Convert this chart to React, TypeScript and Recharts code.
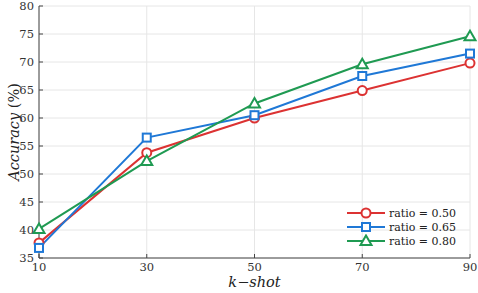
import {
  LineChart,
  Line,
  XAxis,
  YAxis,
  CartesianGrid,
  Legend,
  Label
} from "recharts"

const shots = [10, 30, 50, 70, 90]
const ratio050 = [37.7, 53.8, 60.0, 64.9, 69.8]
const ratio065 = [36.8, 56.5, 60.5, 67.5, 71.5]
const ratio080 = [40.2, 52.3, 62.6, 69.6, 74.6]
const xTicks = [10, 30, 50, 70, 90]
const yTicks = [35, 40, 45, 50, 55, 60, 65, 70, 75, 80]

const RED = "#dc3232"
const BLUE = "#1f78d6"
const GREEN = "#1f9a52"
const FONT = "DejaVu Serif"

const data = shots.map((k, i) => ({
  k,
  r050: ratio050[i],
  r065: ratio065[i],
  r080: ratio080[i]
}))

function Marker({ kind, cx, cy, color }: { kind: string; cx: number; cy: number; color: string }) {
  if (kind === "square") {
    return <rect x={cx - 4} y={cy - 4} width={8} height={8} fill="#fff" stroke={color} strokeWidth={2} />
  }
  if (kind === "triangle") {
    return (
      <polygon
        points={`${cx},${cy - 5.5} ${cx - 5.5},${cy + 4} ${cx + 5.5},${cy + 4}`}
        fill="#fff"
        stroke={color}
        strokeWidth={2}
      />
    )
  }
  return <circle cx={cx} cy={cy} r={4.5} fill="#fff" stroke={color} strokeWidth={2} />
}

const kinds: Record<string, string> = { r050: "circle", r065: "square", r080: "triangle" }

function makeDot(kind: string, color: string) {
  return (props: any) => (
    <Marker key={`${kind}-${props.index}`} kind={kind} cx={props.cx} cy={props.cy} color={color} />
  )
}

function LegendBox(props: any) {
  const payload = props.payload || []
  return (
    <div style={{ fontFamily: FONT, fontSize: 11, color: "#222" }}>
      {payload.map((p: any) => (
        <div key={p.dataKey} style={{ display: "flex", alignItems: "center", height: 14 }}>
          <svg width={40} height={14}>
            <line x1={1} y1={7} x2={39} y2={7} stroke={p.color} strokeWidth={2} />
            <Marker kind={kinds[p.dataKey]} cx={20} cy={7} color={p.color} />
          </svg>
          <span style={{ marginLeft: 3 }}>{p.value}</span>
        </div>
      ))}
    </div>
  )
}

function YTitle(props: any) {
  const vb = props.viewBox || {}
  const cx = 14
  const cy = vb.y + vb.height / 2
  return (
    <text
      x={cx}
      y={cy}
      transform={`rotate(-90 ${cx} ${cy})`}
      textAnchor="middle"
      dominantBaseline="central"
      style={{ fontFamily: FONT, fontSize: 14.5 }}
      fill="#222"
    >
      <tspan fontStyle="italic">Accuracy</tspan>
      <tspan> (%)</tspan>
    </text>
  )
}

export default function App() {
  const tickStyle = { fontFamily: FONT, fontSize: 11.5, fill: "#333" }
  return (
    <div style={{ position: "absolute", left: 0, top: 0, background: "#fff", fontFamily: FONT }}>
      <LineChart
        width={478}
        height={293}
        data={data}
        margin={{ top: 6, right: 8, bottom: 0, left: 0 }}
        style={{ fontFamily: FONT }}
      >
        <CartesianGrid stroke="#e6e6e6" strokeWidth={1} />
        <XAxis
          dataKey="k"
          type="number"
          domain={[10, 90]}
          ticks={xTicks}
          height={35}
          stroke="#444"
          tickSize={-4}
          tickMargin={9}
          tick={tickStyle}
        >
          <Label
            value="k−shot"
            position="insideBottom"
            offset={6}
            style={{ fontFamily: FONT, fontSize: 14.5, fontStyle: "italic", fill: "#222" }}
          />
        </XAxis>
        <XAxis
          xAxisId="top"
          dataKey="k"
          type="number"
          orientation="top"
          domain={[10, 90]}
          ticks={xTicks}
          height={0}
          stroke="#444"
          tick={false}
          tickSize={-4}
        />
        <YAxis
          type="number"
          domain={[35, 80]}
          ticks={yTicks}
          width={39}
          stroke="#444"
          tickSize={-4}
          tickMargin={9}
          tick={tickStyle}
        >
          <Label content={<YTitle />} />
        </YAxis>
        <YAxis
          yAxisId="right"
          orientation="right"
          type="number"
          domain={[35, 80]}
          ticks={yTicks}
          width={0}
          stroke="#444"
          tick={false}
          tickSize={-4}
        />
        <Legend
          layout="horizontal"
          verticalAlign="middle"
          align="center"
          content={<LegendBox />}
          wrapperStyle={{ left: 346, top: 206, width: 130, height: 44 }}
        />
        <Line
          type="linear"
          dataKey="r050"
          name="ratio = 0.50"
          stroke={RED}
          strokeWidth={2}
          dot={makeDot("circle", RED)}
          activeDot={false}
          isAnimationActive={false}
        />
        <Line
          type="linear"
          dataKey="r065"
          name="ratio = 0.65"
          stroke={BLUE}
          strokeWidth={2}
          dot={makeDot("square", BLUE)}
          activeDot={false}
          isAnimationActive={false}
        />
        <Line
          type="linear"
          dataKey="r080"
          name="ratio = 0.80"
          stroke={GREEN}
          strokeWidth={2}
          dot={makeDot("triangle", GREEN)}
          activeDot={false}
          isAnimationActive={false}
        />
      </LineChart>
    </div>
  )
}
